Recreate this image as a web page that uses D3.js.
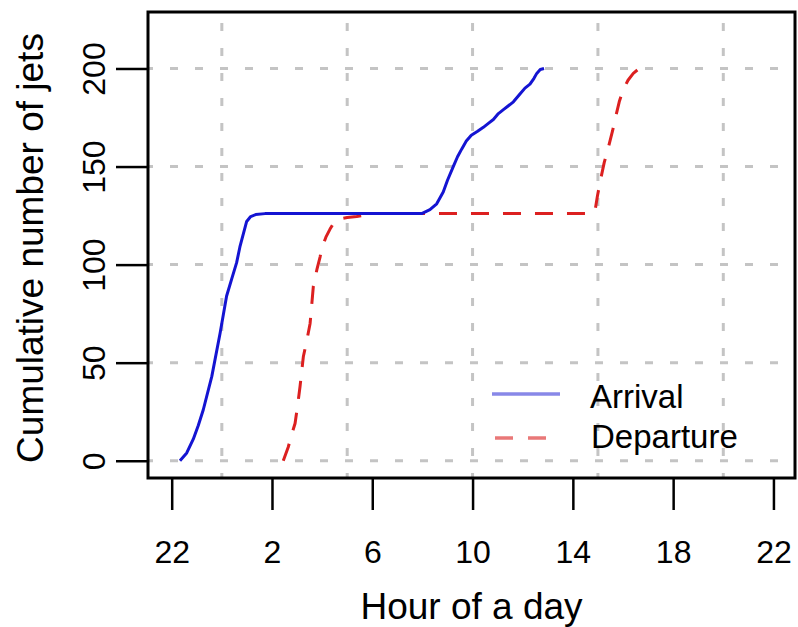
<!DOCTYPE html>
<html>
<head>
<meta charset="utf-8">
<script src="https://cdn.jsdelivr.net/npm/d3@7"></script>
<style>
  html, body { margin: 0; padding: 0; background: #fff; }
  svg { display: block; }
  text { font-family: "Liberation Sans", Arial, Helvetica, sans-serif; fill: #000; }
</style>
</head>
<body>
<svg id="chart" width="798" height="627"></svg>
<script>
// ---- data (hours elapsed since 22:00 of the previous day, cumulative jets) ----
const arrivalHours = [0.33,0.6,0.86,1.06,1.26,1.6,1.93,2.19,2.4,2.59,2.72,2.99,3.15,3.35,3.72,6,9.97,10.3,10.57,10.83,11.0,11.23,11.4,11.57,11.75,11.95,12.2,12.43,12.63,12.83,13.03,13.23,13.43,13.63,13.89,14.09,14.29,14.45,14.56,14.7,14.85];
const arrivalCounts = [0,4,11,18,26,43,65,84,93,101,109,122,124.5,125.5,126,126,126,128,131,137,143,150,155,159,163,166,168,170,172,174,177,179,181,183,187,190,192,195,197.5,199.5,200];
const departureHours = [4.45,4.65,4.8,4.92,5.02,5.12,5.25,5.4,5.52,5.65,5.8,5.92,5.98,6.15,6.31,6.45,6.58,7.0,7.38,8.04,12,16.5,16.88,16.98,17.1,17.25,17.42,17.58,17.72,17.85,18.0,18.2,18.41,18.6,18.9];
const departureCounts = [0,7,14,19,28,38,53,62,70,89,98,104,108,114,118,121,123,124,124.5,126,126,126,127,135,143,152,160,168,176,183,189,194,197.5,199.5,200];
const xTickValues = [0,4,8,12,16,20,24];
const xTickLabels = ["22","2","6","10","14","18","22"];
const yTickValues = [0,50,100,150,200];
const xGridValues = [2,7,12,17,22];   // hour of day 0, 5, 10, 15, 20
const seriesNames = ["Arrival","Departure"];

// ---- layout ----
const L = 148, R = 795, T = 12, B = 478;
const svg = d3.select("#chart");
const x = d3.scaleLinear().domain([-0.945, 24.86]).range([L, R]);
const y = d3.scaleLinear().domain([-8.8, 228.8]).range([B, T]);

svg.append("defs").append("clipPath").attr("id","clip")
  .append("rect").attr("x",L).attr("y",T).attr("width",R-L).attr("height",B-T);

// grid
const grid = svg.append("g").attr("clip-path","url(#clip)")
  .attr("stroke","#c4c4c4").attr("stroke-width",3).attr("stroke-dasharray","8,17");
grid.selectAll("line.v").data(xGridValues).join("line").attr("class","v")
  .attr("x1",d=>x(d)).attr("x2",d=>x(d)).attr("y1",B+3).attr("y2",T);
grid.selectAll("line.h").data(yTickValues).join("line").attr("class","h")
  .attr("x1",L-3).attr("x2",R).attr("y1",d=>y(d)).attr("y2",d=>y(d));

// series
const line = d3.line().x(d=>x(d[0])).y(d=>y(d[1]));
const arr = arrivalHours.map((h,i)=>[h, arrivalCounts[i]]);
const dep = departureHours.map((h,i)=>[h, departureCounts[i]]);
const plot = svg.append("g").attr("clip-path","url(#clip)");
plot.append("path").datum(dep).attr("d",line).attr("fill","none")
  .attr("stroke","#dc2020").attr("stroke-width",3).attr("stroke-dasharray","18,14")
  .attr("stroke-linejoin","round");
plot.append("path").datum(arr).attr("d",line).attr("fill","none")
  .attr("stroke","#1414d2").attr("stroke-width",3).attr("stroke-linejoin","round");

// axes
const xAxis = svg.append("g").attr("transform",`translate(0,${B})`)
  .call(d3.axisBottom(x).tickValues(xTickValues).tickFormat((d,i)=>xTickLabels[i]).tickSize(32).tickSizeOuter(0));
xAxis.select(".domain").remove();
xAxis.selectAll(".tick line").attr("stroke","#000").attr("stroke-width",2.5);
xAxis.selectAll(".tick text").attr("y",85).attr("dy",0).style("font-size","32px")
  .style("font-family","'Liberation Sans', Arial, sans-serif").attr("fill","#000");

const yAxis = svg.append("g").attr("transform",`translate(${L},0)`)
  .call(d3.axisLeft(y).tickValues(yTickValues).tickSize(32).tickSizeOuter(0));
yAxis.select(".domain").remove();
yAxis.selectAll(".tick line").attr("stroke","#000").attr("stroke-width",2.5);
yAxis.selectAll(".tick text").attr("transform","rotate(-90)").attr("x",0).attr("y",-43).attr("dy",0)
  .attr("text-anchor","middle").style("font-size","32px")
  .style("font-family","'Liberation Sans', Arial, sans-serif").attr("fill","#000");

// box
svg.append("rect").attr("x",L).attr("y",T).attr("width",R-L).attr("height",B-T)
  .attr("fill","none").attr("stroke","#000").attr("stroke-width",3);

// axis titles
svg.append("text").attr("x",(L+R)/2).attr("y",619).attr("text-anchor","middle")
  .style("font-size","37px").text("Hour of a day");
svg.append("text").attr("transform",`translate(43,${(T+B)/2 + 3}) rotate(-90)`).attr("text-anchor","middle")
  .style("font-size","37px").text("Cumulative number of jets");

// legend
const lg = svg.append("g");
lg.append("line").attr("x1",492).attr("x2",560).attr("y1",394).attr("y2",394)
  .attr("stroke","#1414d2").attr("stroke-width",3.5).attr("opacity",0.5);
lg.append("line").attr("x1",495).attr("x2",560).attr("y1",438).attr("y2",438)
  .attr("stroke","#dc2020").attr("stroke-width",3.5).attr("stroke-dasharray","18,15").attr("opacity",0.6);
lg.append("text").attr("x",590).attr("y",408).style("font-size","33px").text(seriesNames[0]);
lg.append("text").attr("x",591).attr("y",448).style("font-size","33px").text(seriesNames[1]);
</script>
</body>
</html>
